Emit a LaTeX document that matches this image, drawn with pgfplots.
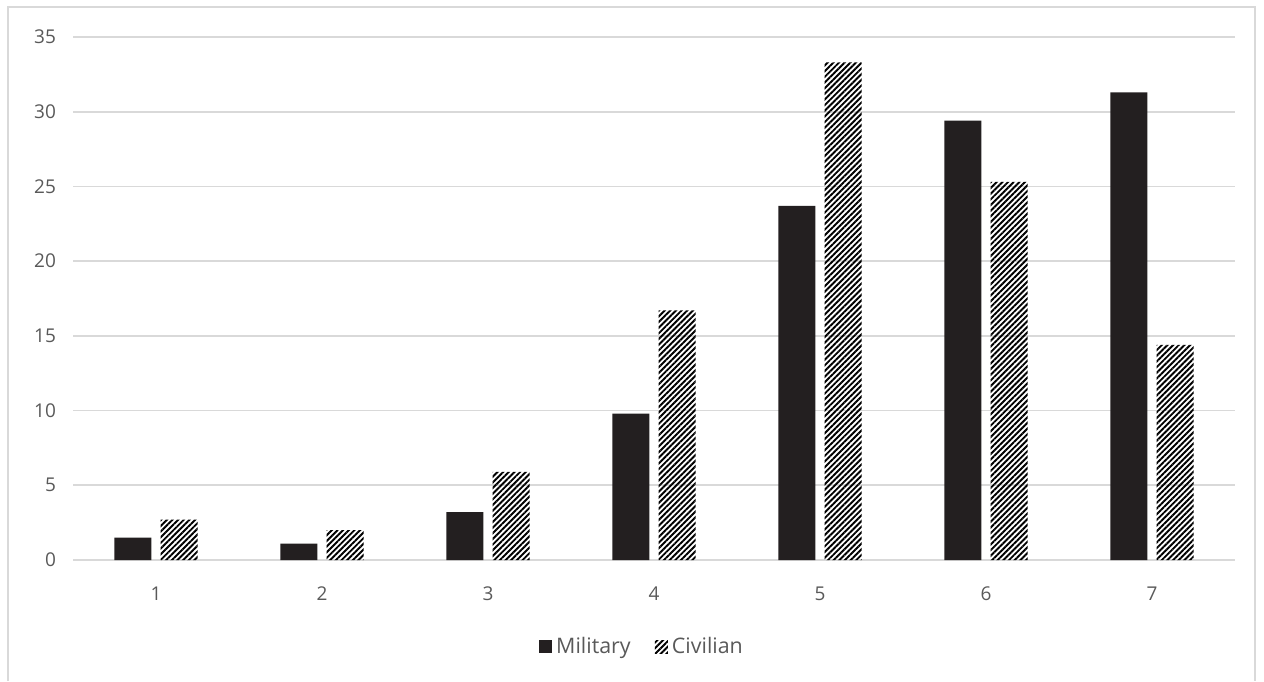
\documentclass[border=0pt]{standalone}
\usepackage{pgfplots}
\pgfplotsset{compat=1.18}
\usepackage{fontspec}
\setmainfont{Open Sans}
\usetikzlibrary{patterns.meta}
\definecolor{gridgray}{HTML}{D9D9D9}
\definecolor{txtgray}{HTML}{595959}
\definecolor{milblack}{HTML}{231F20}

\pgfplotstableread{
x  mil   civ
1  1.5   2.7
2  1.1   2.0
3  3.2   5.9
4  9.8   16.7
5  23.7  33.3
6  29.4  25.3
7  31.3  14.4
}\datatable

\tikzset{
  civhatch/.style={pattern={Lines[angle=45,distance=2.0pt,line width=0.95pt]},pattern color=black}
}

\begin{document}
\begin{tikzpicture}[x=1pt,y=1pt]
\useasboundingbox (0,0) rectangle (632,340.5);
% outer frame
\draw[gridgray,line width=0.8pt] (4,0) -- (4,337) -- (627.5,337) -- (627.5,0);
\begin{axis}[
  at={(36.5pt,60.5pt)}, anchor=south west,
  scale only axis, width=581pt, height=261.5pt,
  xmin=0.5, xmax=7.5, ymin=0, ymax=35,
  xtick={1,...,7}, ytick={0,5,...,35},
  ymajorgrids, grid style={gridgray,line width=0.8pt},
  axis line style={draw=none},
  axis x line*=bottom, axis y line*=left,
  x axis line style={draw=gridgray,line width=0.8pt},
  major tick length=0pt,
  tick label style={font=\fontsize{9.5}{11}\selectfont, text=txtgray},
  /pgf/number format/assume math mode=true,
  xticklabel style={yshift=-10pt},
  yticklabel style={xshift=-5pt},
  ybar, bar width=0.223,
  legend columns=2,
  legend style={at={(0.4905,-0.166)}, anchor=center, draw=none, fill=none,
    font=\fontsize{10.7}{12}\selectfont, text=txtgray,
    /tikz/every even column/.append style={column sep=10pt}},
  legend image code/.code={\fill[#1] (0pt,-3.3pt) rectangle (6.6pt,3.3pt);},
]
\addplot[fill=milblack, draw=none, bar shift=-0.139] table[x=x,y=mil]{\datatable};
\addlegendentry{Military}
\addplot[civhatch, draw=none, bar shift=0.139] table[x=x,y=civ]{\datatable};
\addlegendentry{Civilian}
\end{axis}
\end{tikzpicture}
\end{document}
